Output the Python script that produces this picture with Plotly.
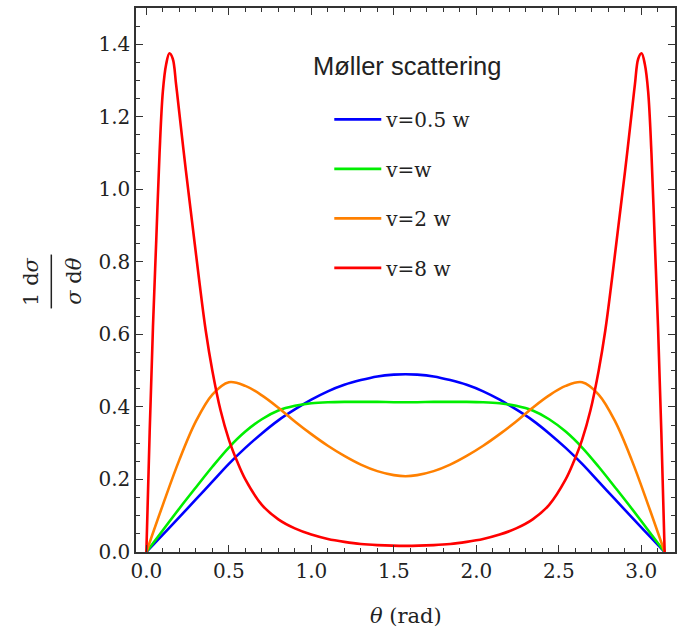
import plotly.graph_objects as go

# ---------------- data ----------------
theta = [0.0, 0.1, 0.2, 0.3, 0.4, 0.5, 0.6, 0.7, 0.8, 0.9, 1.0, 1.1, 1.2, 1.3, 1.4, 1.5,
         1.5708,
         1.6416, 1.7416, 1.8416, 1.9416, 2.0416, 2.1416, 2.2416, 2.3416, 2.4416, 2.5416,
         2.6416, 2.7416, 2.8416, 2.9416, 3.0416, 3.1416]

v_half_w = [0.0, 0.048, 0.096, 0.145, 0.194, 0.243, 0.287, 0.327, 0.363, 0.393, 0.42, 0.443, 0.461, 0.474, 0.484, 0.489,
            0.49,
            0.489, 0.484, 0.474, 0.461, 0.443, 0.42, 0.393, 0.363, 0.327, 0.287,
            0.243, 0.194, 0.145, 0.096, 0.048, 0.0]

v_w = [0.0, 0.06, 0.12, 0.178, 0.235, 0.288, 0.332, 0.366, 0.39, 0.403, 0.41, 0.413, 0.414, 0.414, 0.414, 0.413,
       0.413,
       0.413, 0.414, 0.414, 0.414, 0.413, 0.41, 0.403, 0.39, 0.366, 0.332,
       0.288, 0.235, 0.178, 0.12, 0.06, 0.0]

v_2w = [0.0, 0.13, 0.254, 0.36, 0.434, 0.468, 0.458, 0.432, 0.398, 0.36, 0.325, 0.293, 0.265, 0.241, 0.223, 0.212,
        0.209,
        0.212, 0.223, 0.241, 0.265, 0.293, 0.325, 0.36, 0.398, 0.432, 0.458,
        0.468, 0.434, 0.36, 0.254, 0.13, 0.0]

theta_red = [0.0, 0.02, 0.04, 0.06, 0.08, 0.1, 0.12, 0.14, 0.16, 0.18, 0.2, 0.24, 0.28, 0.32, 0.36,
             0.4, 0.45, 0.5, 0.55, 0.6, 0.7, 0.8, 0.9, 1.0, 1.1, 1.2, 1.3, 1.4,
             1.5708,
             1.7416, 1.8416, 1.9416, 2.0416, 2.1416, 2.2416, 2.3416, 2.4416, 2.5416, 2.5916,
             2.6416, 2.6916, 2.7416, 2.7816, 2.8216, 2.8616, 2.9016, 2.9416, 2.9616, 2.9816,
             3.0016, 3.0216, 3.0416, 3.0616, 3.0816, 3.1016, 3.1216, 3.1416]

v_8w = [0.0, 0.33, 0.62, 0.86, 1.1, 1.27, 1.345, 1.375, 1.36, 1.29, 1.21, 1.05, 0.9, 0.75, 0.61,
        0.5, 0.39, 0.31, 0.25, 0.2, 0.13, 0.09, 0.065, 0.048, 0.036, 0.028, 0.022, 0.019,
        0.017,
        0.019, 0.022, 0.028, 0.036, 0.048, 0.065, 0.09, 0.13, 0.2, 0.25,
        0.31, 0.39, 0.5, 0.61, 0.75, 0.9, 1.05, 1.21, 1.29, 1.36,
        1.375, 1.345, 1.27, 1.1, 0.86, 0.62, 0.33, 0.0]

series_names = ["v=0.5 w", "v=w", "v=2 w", "v=8 w"]
series_colors = ["#0000ff", "#00ee00", "#ff8000", "#ff0000"]

x_ticks = [0.0, 0.5, 1.0, 1.5, 2.0, 2.5, 3.0]
y_ticks = [0.0, 0.2, 0.4, 0.6, 0.8, 1.0, 1.2, 1.4]

# ---------------- figure ----------------
W, H = 683, 629
ML, MR, MT, MB = 136, 6, 7, 77
PW, PH = W - ML - MR, H - MT - MB


def px_x(p):
    return (p - ML) / PW


def px_y(p):
    return (H - MB - p) / PH


fig = go.Figure()
xs = [theta, theta, theta, theta_red]
ys = [v_half_w, v_w, v_2w, v_8w]
for i in range(4):
    fig.add_trace(go.Scatter(
        x=xs[i], y=ys[i], mode="lines", name=series_names[i],
        legendgroup=f"g{i}",
        line=dict(color=series_colors[i], width=2.6, shape="spline", smoothing=1.0),
        hoverinfo="skip",
    ))

SERIF = "DejaVu Serif"
axis_common = dict(
    showline=True, linecolor="#333333", linewidth=1.5, mirror="allticks",
    ticks="inside", ticklen=7, tickwidth=1.2, tickcolor="#333333",
    showgrid=False, zeroline=False,
    tickfont=dict(family=SERIF, size=20, color="#222222"),
    tickformat=".1f",
)

fig.update_xaxes(range=[-0.0628, 3.2044], tickvals=x_ticks,
                 minor=dict(dtick=0.1, tick0=0, ticks="inside", ticklen=4, tickwidth=1.0, tickcolor="#333333"),
                 **axis_common)
fig.update_yaxes(range=[0, 1.5], tickvals=y_ticks,
                 minor=dict(dtick=0.05, tick0=0, ticks="inside", ticklen=4, tickwidth=1.0, tickcolor="#333333"),
                 **axis_common)

annotations = [
    # legend title
    dict(text="Møller scattering", x=px_x(408), y=px_y(65), xref="paper", yref="paper",
         showarrow=False, xanchor="center", yanchor="middle",
         font=dict(family="Liberation Sans", size=25.5, color="#222222")),
    # x axis title
    dict(text="<i>θ</i> (rad)", x=px_x(407), y=px_y(616), xref="paper", yref="paper",
         showarrow=False, xanchor="center", yanchor="middle",
         font=dict(family=SERIF, size=21, color="#222222")),
    # y axis title: fraction 1 dσ / σ dθ (rotated)
    dict(text="1 d<i>σ</i>", x=px_x(31), y=px_y(281), xref="paper", yref="paper",
         showarrow=False, xanchor="center", yanchor="middle", textangle=-90,
         font=dict(family=SERIF, size=21, color="#222222")),
    dict(text="<i>σ</i> d<i>θ</i>", x=px_x(74), y=px_y(281), xref="paper", yref="paper",
         showarrow=False, xanchor="center", yanchor="middle", textangle=-90,
         font=dict(family=SERIF, size=21, color="#222222")),
]

shapes = [
    dict(type="line", xref="paper", yref="paper",
         x0=px_x(51), x1=px_x(51), y0=px_y(254), y1=px_y(308),
         line=dict(color="#222222", width=1.5)),
]

fig.update_layout(
    width=W, height=H,
    margin=dict(l=ML, r=MR, t=MT, b=MB),
    paper_bgcolor="white", plot_bgcolor="white",
    showlegend=True,
    legend=dict(
        x=px_x(330), y=px_y(99), xanchor="left", yanchor="top",
        bgcolor="rgba(0,0,0,0)", borderwidth=0,
        font=dict(family=SERIF, size=20, color="#222222"),
        traceorder="grouped", tracegroupgap=20.5, itemwidth=47,
    ),
    annotations=annotations,
    shapes=shapes,
)

fig.write_html("out.html")
